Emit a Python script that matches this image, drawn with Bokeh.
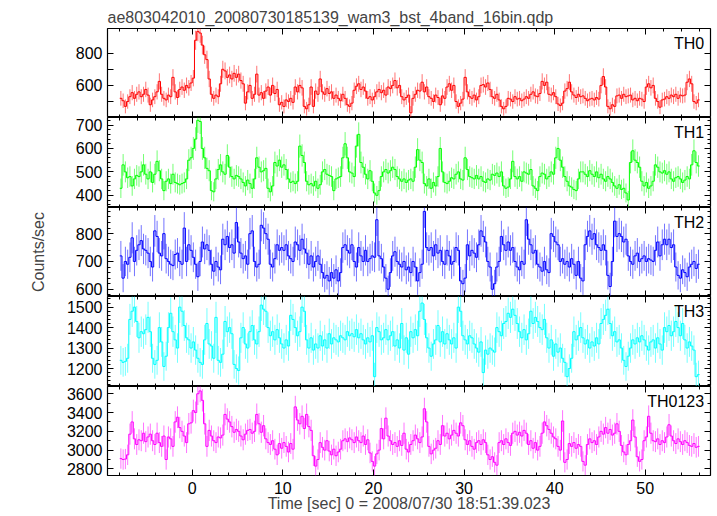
import numpy as np
from bokeh.plotting import figure
from bokeh.models import Range1d, LinearAxis, FixedTicker, Label
from bokeh.layouts import column
from bokeh.embed import file_html
from bokeh.resources import INLINE

TITLE = "ae803042010_20080730185139_wam3_bst_4band_16bin.qdp"
XLABEL = "Time [sec] 0 = 2008/07/30 18:51:39.023"
YLABEL = "Counts/sec"
T_START = -8.0
BIN = 0.25

TH0 = [
520, 505, 470, 500,
530, 555, 520, 545,
560, 530, 545, 575,
540, 480, 510, 530,
560, 625, 545, 520,
510, 540, 530, 650,
560, 525, 575, 590,
570, 600, 585, 615,
645, 880, 935, 925,
850, 790, 760, 640,
545, 520, 540, 530,
610, 700, 690, 650,
665, 640, 675, 650,
670, 630, 610, 490,
560, 600, 520, 545,
670, 540, 555, 520,
565, 590, 540, 600,
550, 575, 480, 495,
470, 510, 500, 520,
495, 590, 560, 600,
585, 470, 455, 480,
590, 470, 565, 545,
640, 560, 545, 580,
550, 560, 520, 540,
520, 505, 545, 520,
480, 470, 490, 570,
595, 610, 575, 590,
565, 520, 530, 510,
530, 560, 575, 555,
570, 540, 590, 580,
600, 630, 585, 600,
530, 510, 525, 540,
430, 520, 545, 570,
565, 620, 560, 590,
530, 520, 500, 540,
525, 480, 535, 520,
590, 610, 570, 600,
500, 470, 490, 515,
650, 560, 530, 520,
540, 510, 530, 600,
605, 590, 615, 575,
530, 520, 545, 510,
470, 455, 470, 520,
515, 500, 530, 515,
520, 505, 515, 530,
520, 545, 560, 535,
530, 550, 625, 600,
620, 545, 540, 555,
530, 485, 475, 490,
565, 580, 620, 560,
540, 525, 545, 530,
535, 520, 505, 515,
520, 510, 525, 515,
600, 655, 590, 470,
455, 480, 470, 535,
540, 520, 545, 530,
535, 540, 510, 520,
505, 520, 515, 500,
590, 610, 585, 600,
520, 500, 465, 510,
515, 530, 520, 540,
530, 545, 520, 540,
535, 540, 620, 640,
610, 500, 490, 510,
]

TH1 = [
430, 530, 500, 475,
480, 440, 470, 485,
480, 500, 530, 490,
470, 500, 455, 490,
545, 505, 470, 420,
460, 470, 450, 490,
455, 450, 445, 450,
455, 470, 550, 560,
600, 640, 720, 715,
600, 560, 515, 505,
420, 415, 470, 510,
530, 500, 490, 570,
520, 480, 470, 485,
480, 470, 455, 440,
465, 450, 430, 470,
560, 520, 500, 505,
515, 430, 415, 440,
540, 525, 550, 520,
530, 510, 470, 455,
460, 450, 460, 610,
570, 540, 460, 445,
450, 440, 460, 430,
445, 500, 510, 490,
485, 480, 420, 470,
475, 480, 560, 620,
560, 500, 495, 480,
610, 660, 540, 520,
490, 470, 505, 460,
410, 400, 420, 480,
500, 510, 495, 505,
520, 510, 480, 470,
460, 470, 455, 465,
470, 460, 520, 595,
550, 540, 450, 440,
470, 430, 455, 440,
480, 600, 500, 455,
450, 460, 475, 470,
490, 500, 470, 465,
560, 510, 480, 475,
470, 485, 470, 480,
460, 455, 470, 465,
490, 485, 495, 480,
500, 440, 430, 435,
470, 545, 480, 470,
480, 460, 500, 495,
490, 510, 440, 430,
420, 480, 495, 490,
470, 480, 500, 490,
560, 600, 550, 520,
480, 460, 440, 435,
425, 420, 470, 500,
500, 490, 480, 505,
490, 480, 500, 475,
490, 470, 460, 480,
470, 455, 440, 430,
445, 425, 430, 410,
380, 540, 590, 550,
540, 520, 460, 440,
455, 430, 440, 460,
530, 520, 500, 495,
505, 490, 500, 470,
460, 475, 480, 470,
455, 465, 480, 470,
530, 590, 540, 525,
]

TH2 = [
720, 640, 700, 690,
715, 785, 700, 740,
760, 775, 745, 740,
730, 700, 680, 810,
790, 730, 720, 800,
710, 700, 690, 685,
725, 730, 700, 690,
820, 700, 760, 740,
715, 690, 645, 700,
770, 745, 760, 740,
690, 665, 700, 680,
670, 780, 760, 790,
750, 760, 730, 840,
770, 730, 710, 720,
690, 800, 810, 700,
680, 690, 830, 820,
800, 780, 690, 680,
710, 760, 740, 750,
740, 760, 720, 710,
700, 770, 760, 740,
780, 745, 730, 690,
720, 680, 700, 720,
690, 660, 640, 650,
630, 660, 640, 670,
630, 660, 750, 760,
740, 730, 760, 700,
680, 750, 720, 700,
740, 700, 710, 720,
715, 850, 720, 710,
680, 640, 600, 660,
720, 735, 700, 690,
680, 700, 670, 680,
660, 700, 680, 630,
660, 690, 880, 750,
740, 750, 720, 760,
730, 740, 700, 690,
740, 720, 690, 700,
750, 740, 630, 620,
640, 760, 720, 740,
730, 715, 760, 810,
790, 770, 700, 680,
600, 620, 680, 700,
790, 760, 740, 770,
740, 750, 700, 680,
670, 700, 690, 850,
780, 760, 730, 740,
690, 680, 665, 700,
670, 660, 800, 790,
770, 760, 700, 710,
690, 700, 680, 710,
690, 650, 700, 640,
630, 760, 790, 810,
780, 800, 760, 750,
740, 760, 740, 650,
610, 700, 845, 790,
800, 790, 770, 780,
720, 700, 690, 720,
730, 700, 710, 720,
700, 710, 705, 700,
740, 770, 720, 760,
780, 760, 780, 750,
760, 680, 650, 640,
670, 660, 645, 680,
690, 700, 675, 690,
]

TH3 = [
1240, 1230, 1235, 1250,
1440, 1480, 1500, 1430,
1350, 1380, 1370, 1390,
1450, 1380, 1250, 1220,
1240, 1400, 1330, 1210,
1260, 1400, 1470, 1380,
1340, 1300, 1500, 1480,
1410, 1350, 1340, 1300,
1330, 1290, 1250, 1230,
1220, 1340, 1420, 1320,
1310, 1250, 1450, 1240,
1230, 1270, 1430, 1380,
1400, 1370, 1220, 1200,
1190, 1350, 1400, 1320,
1300, 1380, 1410, 1340,
1320, 1380, 1510, 1490,
1480, 1400, 1360, 1380,
1340, 1390, 1350, 1320,
1300, 1340, 1310, 1460,
1440, 1400, 1360, 1380,
1500, 1480, 1340, 1300,
1350, 1290, 1320, 1300,
1360, 1310, 1340, 1300,
1370, 1320, 1350, 1340,
1330, 1360, 1350, 1340,
1380, 1360, 1370, 1355,
1390, 1350, 1370, 1340,
1320, 1350, 1330, 1360,
1160, 1400, 1380, 1340,
1350, 1390, 1340, 1360,
1380, 1310, 1340, 1300,
1420, 1290, 1350, 1270,
1380, 1350, 1390, 1360,
1480, 1520, 1440, 1350,
1300, 1260, 1320, 1340,
1410, 1330, 1380, 1320,
1370, 1340, 1320, 1350,
1300, 1500, 1480, 1360,
1340, 1320, 1360, 1350,
1320, 1300, 1280, 1330,
1180, 1290, 1270, 1300,
1290, 1280, 1400, 1380,
1360, 1420, 1430, 1470,
1450, 1490, 1460, 1420,
1380, 1350, 1390, 1340,
1370, 1480, 1420, 1450,
1430, 1400, 1390, 1440,
1350, 1300, 1340, 1260,
1320, 1280, 1300, 1250,
1230, 1160, 1200, 1250,
1380, 1340, 1360, 1400,
1350, 1320, 1340, 1300,
1330, 1310, 1350, 1320,
1420, 1440, 1460, 1490,
1420, 1360, 1380, 1330,
1340, 1300, 1240, 1210,
1260, 1300, 1340, 1320,
1350, 1330, 1360, 1340,
1310, 1290, 1330, 1340,
1300, 1350, 1320, 1290,
1400, 1380, 1410, 1360,
1380, 1430, 1400, 1360,
1420, 1340, 1300, 1330,
1310, 1290, 1160, 1170,
]

TH0123 = [
2910, 2900, 2905, 2950,
3170, 3300, 3120, 3060,
3110, 3100, 3180, 3090,
3140, 3170, 3100, 3060,
3180, 3080, 3040, 3150,
2900, 3140, 3120, 3040,
3300, 3350, 3240, 3200,
3150, 3080, 3280, 3290,
3420, 3400, 3600, 3630,
3530, 3280, 3040, 3210,
3150, 3100, 3080, 3140,
3130, 3160, 3380, 3330,
3300, 3250, 3190, 3220,
3200, 3150, 3110, 3170,
3210, 3220, 3180, 3200,
3380, 3280, 3190, 3260,
3120, 3080, 3060, 3100,
3010, 2950, 3070, 3020,
3080, 3040, 2980, 3070,
3010, 3460, 3320, 3280,
3360, 3230, 3380, 3250,
3210, 2940, 2830, 2900,
3080, 3030, 3000, 3100,
2990, 2950, 3010, 2940,
2980, 3010, 3100, 3120,
3090, 3130, 3110, 3080,
3140, 3100, 3080, 3150,
3060, 3110, 2970, 2880,
2830, 2960, 3000, 3230,
3120, 3340, 3150, 3100,
3060, 3080, 3040, 3100,
3050, 3180, 3010, 2980,
3060, 3100, 3160, 3120,
3080, 3140, 3440, 3300,
3040, 2960, 3000, 3020,
3100, 3060, 3260, 3150,
3180, 3120, 3160, 3210,
3180, 3150, 3290, 3260,
3110, 3060, 3100, 3040,
3010, 3080, 3100, 3060,
3110, 3080, 2950, 2900,
2930, 2870, 2840, 3080,
3100, 3060, 3120, 3080,
3050, 3180, 3200, 3160,
3190, 3150, 3210, 3180,
3060, 3100, 3020, 3080,
3000, 3040, 3180, 3300,
3260, 3220, 3180, 3140,
3120, 3040, 3000, 3310,
2870, 2900, 3070, 3040,
3080, 3020, 3060, 3040,
2880, 2840, 3060, 3120,
3080, 3100, 3060, 3140,
3200, 3170, 3240, 3180,
3220, 3160, 3180, 3280,
3200, 3050, 2980, 2950,
3060, 3100, 3320, 3140,
2930, 2880, 2900, 3100,
3140, 3360, 3180, 3100,
3090, 3120, 3060, 3100,
3080, 3140, 3270, 3150,
3100, 3070, 3120, 3090,
3060, 3100, 3080, 3050,
3040, 3070, 3030, 3040,
]

NAMES = ["TH0", "TH1", "TH2", "TH3", "TH0123"]
SERIES = [TH0, TH1, TH2, TH3, TH0123]
COLORS = ["#ff0000", "#00ff00", "#0000ff", "#00ffff", "#ff00ff"]
YRANGES = [(401, 953), (348, 732), (574, 894), (1112, 1552), (2730, 3677)]
YTICKS = [[600, 800], [400, 500, 600, 700], [600, 700, 800],
          [1200, 1300, 1400, 1500], [2800, 3000, 3200, 3400, 3600]]
YMINOR = [[500, 700], list(range(360, 740, 20)), list(range(580, 900, 20)),
          list(range(1120, 1560, 20)), list(range(2800, 3700, 100))]
XTICKS = [0, 10, 20, 30, 40, 50]
XMINOR = list(range(-8, 57, 2))

FONT = "Liberation Sans"
FS = "16px"
FRAME_W = 603
FRAME_H = [89, 90, 89, 90, 89]
LEFT = 107
TOP = 28
BOTTOM = 40

xr = Range1d(-9.35, 57.2)


def style_axis(ax, labels_on, minor_len=3):
    ax.axis_line_color = None
    ax.major_tick_in = 6
    ax.major_tick_out = 0
    ax.minor_tick_in = minor_len
    ax.minor_tick_out = 0
    ax.major_tick_line_color = "black"
    ax.minor_tick_line_color = "black"
    if labels_on:
        ax.major_label_text_font = FONT
        ax.major_label_text_font_size = FS
        ax.major_label_text_color = "black"
        ax.major_label_standoff = 5
    else:
        ax.major_label_text_font_size = "0px"
        ax.major_label_text_color = None
        ax.major_label_standoff = 0


figs = []
for i in range(5):
    vals = np.array(SERIES[i], dtype=float)
    n = len(vals)
    tc = T_START + BIN * (np.arange(n) + 0.5)
    edges = T_START + BIN * np.arange(n + 1)
    err = 2.0 * np.sqrt(vals)
    first = i == 0
    last = i == 4
    p = figure(frame_width=FRAME_W, frame_height=FRAME_H[i],
               x_range=xr, y_range=Range1d(*YRANGES[i]),
               x_axis_type=None, y_axis_type=None,
               output_backend="svg", toolbar_location=None,
               min_border_left=LEFT, min_border_right=5,
               min_border_top=TOP if first else 0,
               min_border_bottom=BOTTOM if last else 0,
               background_fill_color="white", border_fill_color="white")
    p.outline_line_color = "black"
    p.outline_line_width = 1.2

    # x axes (ticks pointing inward on top and bottom)
    for loc in ("below", "above"):
        ax = LinearAxis(ticker=FixedTicker(ticks=XTICKS, minor_ticks=XMINOR))
        style_axis(ax, last and loc == "below")
        if last and loc == "below":
            ax.major_label_standoff = 6
            ax.axis_label = XLABEL
            ax.axis_label_text_font = FONT
            ax.axis_label_text_font_size = FS
            ax.axis_label_text_font_style = "normal"
            ax.axis_label_standoff = -2
        p.add_layout(ax, loc)

    # y axes (ticks pointing inward on left and right)
    mlen = 6 if i == 0 else 3
    for loc in ("left", "right"):
        ax = LinearAxis(ticker=FixedTicker(ticks=YTICKS[i], minor_ticks=YMINOR[i]))
        style_axis(ax, loc == "left", mlen)
        if loc == "left" and i == 2:
            ax.axis_label = YLABEL
            ax.axis_label_text_font = FONT
            ax.axis_label_text_font_size = FS
            ax.axis_label_text_font_style = "normal"
            ax.axis_label_standoff = 26
        p.add_layout(ax, loc)

    c = COLORS[i]
    p.segment(x0=tc, y0=vals - err, x1=tc, y1=vals + err,
              line_color=c, line_alpha=0.55, line_width=1)
    p.step(x=edges, y=np.append(vals, vals[-1]), mode="after",
           line_color=c, line_width=1)

    y0, y1 = YRANGES[i]
    ypx = (y1 - y0) / FRAME_H[i]
    p.add_layout(Label(x=56.5, y=y1 - 15 * ypx, text=NAMES[i],
                       text_align="right", text_baseline="alphabetic",
                       text_font=FONT, text_font_size=FS,
                       text_font_style="normal", text_color="black"))

    if first:
        p.title.text = TITLE
        p.title.text_font = FONT
        p.title.text_font_size = FS
        p.title.text_font_style = "normal"
        p.title.align = "left"
        p.title.standoff = 6
        p.title.vertical_align = "bottom"
    figs.append(p)

layout = column(*figs, spacing=0)
open("out.html", "w").write(file_html(layout, INLINE))
